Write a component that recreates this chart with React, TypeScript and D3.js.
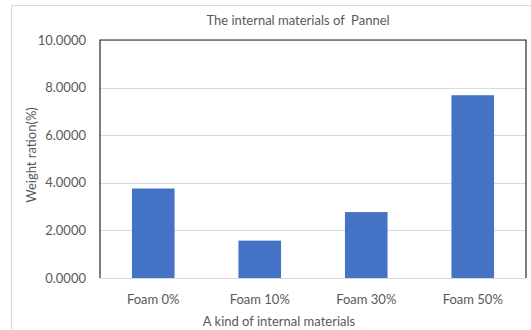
import React, { useRef, useEffect } from 'react';
import * as d3 from 'd3';

const categories = ['Foam 0%', 'Foam 10%', 'Foam 30%', 'Foam 50%'];
const weightRatio = [3.76, 1.57, 2.77, 7.68];
const yTicks = [0, 2, 4, 6, 8, 10];
const chartTitle = 'The internal materials of  Pannel';
const xTitle = 'A kind of internal materials';
const yTitle = 'Weight ration(%)';

const width = 531;
const height = 330;
const font = 'Lato, "Open Sans", sans-serif';

function App() {
  const svgRef = useRef<SVGSVGElement>(null);

  useEffect(() => {
    const svg = d3.select(svgRef.current);
    svg.selectAll('*').remove();

    const left = 100;
    const right = 526;
    const top = 40;
    const bottom = 278;

    const x = d3
      .scaleBand<string>()
      .domain(categories)
      .range([left, right])
      .paddingInner(0.6)
      .paddingOuter(0.3);
    const y = d3.scaleLinear().domain([0, 10]).range([bottom, top]);

    // outer chart frame
    svg
      .append('rect')
      .attr('x', 11.5)
      .attr('y', 5.5)
      .attr('width', 600)
      .attr('height', 400)
      .attr('fill', 'white')
      .attr('stroke', '#d9d9d9');

    svg
      .append('g')
      .selectAll('line')
      .data(yTicks.slice(1))
      .join('line')
      .attr('x1', left)
      .attr('x2', right)
      .attr('y1', (d) => Math.round(y(d)) + 0.5)
      .attr('y2', (d) => Math.round(y(d)) + 0.5)
      .attr('stroke', '#d9d9d9');

    svg
      .append('g')
      .selectAll('rect')
      .data(weightRatio)
      .join('rect')
      .attr('x', (d, i) => x(categories[i]) as number)
      .attr('width', x.bandwidth())
      .attr('y', (d) => y(d))
      .attr('height', (d) => y(0) - y(d))
      .attr('fill', '#4472c4');

    // axis line at 0
    svg
      .append('line')
      .attr('x1', left)
      .attr('x2', right)
      .attr('y1', bottom + 0.5)
      .attr('y2', bottom + 0.5)
      .attr('stroke', '#d9d9d9');

    // dark frame round the plot area (left, top, right)
    svg
      .append('path')
      .attr('d', `M${left},${bottom}V${top}H${right}V${bottom}`)
      .attr('fill', 'none')
      .attr('stroke', '#262626')
      .attr('stroke-width', 1.2);

    svg
      .append('g')
      .selectAll('text')
      .data(yTicks)
      .join('text')
      .attr('x', 86)
      .attr('y', (d) => y(d))
      .attr('dy', '0.35em')
      .attr('text-anchor', 'end')
      .attr('font-family', font)
      .attr('font-size', 13)
      .attr('fill', '#595959')
      .text((d) => d.toFixed(4));

    svg
      .append('g')
      .selectAll('text')
      .data(categories)
      .join('text')
      .attr('x', (d) => (x(d) as number) + x.bandwidth() / 2)
      .attr('y', 304)
      .attr('text-anchor', 'middle')
      .attr('font-family', font)
      .attr('font-size', 13)
      .attr('fill', '#595959')
      .text((d) => d);

    svg
      .append('text')
      .attr('x', 298)
      .attr('y', 25)
      .attr('text-anchor', 'middle')
      .attr('font-family', font)
      .attr('font-size', 13)
      .attr('fill', '#595959')
      .style('white-space', 'pre')
      .text(chartTitle);

    svg
      .append('text')
      .attr('x', 279)
      .attr('y', 326)
      .attr('text-anchor', 'middle')
      .attr('font-family', font)
      .attr('font-size', 13)
      .attr('fill', '#595959')
      .text(xTitle);

    svg
      .append('text')
      .attr('transform', 'translate(36,155) rotate(-90)')
      .attr('text-anchor', 'middle')
      .attr('font-family', font)
      .attr('font-size', 13)
      .attr('fill', '#595959')
      .text(yTitle);
  }, []);

  return (
    <svg
      ref={svgRef}
      width={width}
      height={height}
      style={{ position: 'absolute', left: 0, top: 0, background: 'white' }}
    />
  );
}

export default App;
